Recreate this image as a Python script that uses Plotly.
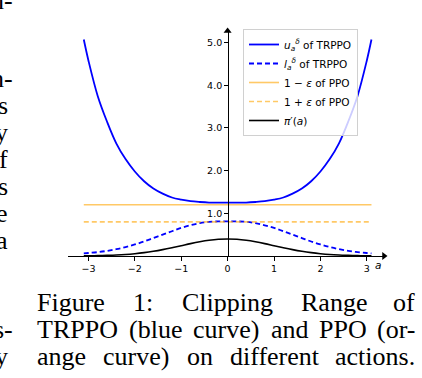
import plotly.graph_objects as go

# action grid and curves
a_vals = [-3.1, -3.0, -2.8, -2.6, -2.4, -2.2, -2.0, -1.8, -1.6, -1.4, -1.2, -1.0,
          -0.8, -0.6, -0.4, -0.2, 0.0, 0.2, 0.4, 0.6, 0.8, 1.0, 1.2, 1.4, 1.6,
          1.8, 2.0, 2.2, 2.4, 2.6, 2.8, 3.0, 3.1]
u_vals = [5.07, 4.58, 3.75, 3.15, 2.64, 2.27, 1.98, 1.75, 1.58, 1.46, 1.37, 1.32,
          1.285, 1.265, 1.252, 1.25, 1.25, 1.25, 1.252, 1.265, 1.285, 1.32, 1.37,
          1.46, 1.58, 1.75, 1.98, 2.27, 2.64, 3.15, 3.75, 4.58, 5.07]
l_vals = [0.06, 0.07, 0.09, 0.12, 0.16, 0.21, 0.27, 0.34, 0.42, 0.50, 0.58, 0.66,
          0.72, 0.77, 0.80, 0.81, 0.81, 0.81, 0.80, 0.77, 0.72, 0.66, 0.58, 0.50,
          0.42, 0.34, 0.27, 0.21, 0.16, 0.12, 0.09, 0.07, 0.06]
pi_vals = [0.003, 0.004, 0.008, 0.014, 0.022, 0.035, 0.054, 0.079, 0.111, 0.150,
           0.194, 0.242, 0.290, 0.333, 0.368, 0.391, 0.399, 0.391, 0.368, 0.333,
           0.290, 0.242, 0.194, 0.150, 0.111, 0.079, 0.054, 0.035, 0.022, 0.014,
           0.008, 0.004, 0.003]
ppo_a = [-3.1, 3.1]
ppo_solid = [1.2, 1.2]
ppo_dashed = [0.8, 0.8]

x_ticks = [-3, -2, -1, 0, 1, 2, 3]
x_ticktext = ["\u22123", "\u22122", "\u22121", "0", "1", "2", "3"]
y_ticks = [1, 2, 3, 4, 5]
y_ticktext = ["1.0", "2.0", "3.0", "4.0", "5.0"]

caption_lines = [
    ["Figure", "1:", "Clipping", "Range", "of"],
    ["TRPPO", "(blue", "curve)", "and", "PPO", "(or-"],
    ["ange", "curve)", "on", "different", "actions."],
]
caption_y = [302, 329, 356]

left_text = ["n-", "n-", "s", "y", "f", "s", "e", "a", "s-", "y"]
left_y = [0, 78, 105, 132, 159, 186, 213, 240, 329, 356]

W, H = 422, 378
ML, MR, MT, MB = 68, 38, 31, 122
PW, PH = W - ML - MR, H - MT - MB
X_RANGE = [-3.44, 3.37]
Y_RANGE = [0, 5.27]

BLUE = "#0000ff"
ORANGE = "rgba(255,165,0,0.6)"
FONT = "DejaVu Sans"
SERIF = "Liberation Serif"
CAP_SIZE = 26
TEXT_LEFT, TEXT_RIGHT = 36, 416

# Times advance widths (1/1000 em), used to justify caption lines
TIMES_W = {"F": 556, "i": 278, "g": 500, "u": 500, "r": 333, "e": 444, "1": 500,
           ":": 278, "C": 667, "l": 278, "p": 500, "n": 500, "R": 667, "a": 444,
           "o": 500, "T": 611, "P": 556, "O": 722, "(": 333, ")": 333, "b": 500,
           "c": 444, "v": 500, "d": 500, "s": 389, "t": 278, "f": 333, "-": 333,
           ".": 250}


def word_w(w):
    return sum(TIMES_W.get(ch, 500) for ch in w) / 1000 * CAP_SIZE


def px_x(px):
    return (px - ML) / PW


def px_y(py):
    return (H - MB - py) / PH


fig = go.Figure()
fig.add_trace(go.Scatter(x=a_vals, y=u_vals, mode="lines", line_shape="spline",
                         name="<i>u<sub>a</sub><sup>δ</sup></i> of TRPPO",
                         line=dict(color=BLUE, width=1.8)))
fig.add_trace(go.Scatter(x=a_vals, y=l_vals, mode="lines", line_shape="spline",
                         name="<i>l<sub>a</sub><sup>δ</sup></i> of TRPPO",
                         line=dict(color=BLUE, width=1.8, dash="5px,3px")))
fig.add_trace(go.Scatter(x=ppo_a, y=ppo_solid, mode="lines",
                         name="1 − <i>ε</i> of PPO",
                         line=dict(color=ORANGE, width=1.6)))
fig.add_trace(go.Scatter(x=ppo_a, y=ppo_dashed, mode="lines",
                         name="1 + <i>ε</i> of PPO",
                         line=dict(color=ORANGE, width=1.6, dash="5px,3px")))
fig.add_trace(go.Scatter(x=a_vals, y=pi_vals, mode="lines", line_shape="spline",
                         name="<i>π</i>′(<i>a</i>)",
                         line=dict(color="black", width=1.6)))

# axis arrow heads
fig.add_trace(go.Scatter(x=[X_RANGE[1]], y=[0], mode="markers", showlegend=False,
                         cliponaxis=False, hoverinfo="skip",
                         marker=dict(symbol="triangle-right", size=7, color="black")))
fig.add_trace(go.Scatter(x=[0], y=[Y_RANGE[1]], mode="markers", showlegend=False,
                         cliponaxis=False, hoverinfo="skip",
                         marker=dict(symbol="triangle-up", size=7, color="black")))

ann = []
# justified caption: spread the leftover space evenly between words
for words, yc in zip(caption_lines, caption_y):
    widths = [word_w(w) for w in words]
    gap = (TEXT_RIGHT - TEXT_LEFT - sum(widths)) / (len(words) - 1)
    xpos = TEXT_LEFT
    for i, (w, ww) in enumerate(zip(words, widths)):
        if i == len(words) - 1:
            xa, xp = "right", TEXT_RIGHT
        else:
            xa, xp = "left", xpos
        ann.append(dict(text=w, x=px_x(xp), y=px_y(yc), xref="paper", yref="paper",
                        xanchor=xa, yanchor="middle", showarrow=False, borderpad=0,
                        font=dict(family=SERIF, size=CAP_SIZE, color="black")))
        xpos += ww + gap
for t, yc in zip(left_text, left_y):
    right = 13.5 if t.endswith("-") else 9
    ann.append(dict(text=t, x=px_x(right), y=px_y(yc), xref="paper", yref="paper",
                    xanchor="right", yanchor="middle", showarrow=False, borderpad=0,
                    font=dict(family=SERIF, size=CAP_SIZE, color="black")))
ann.append(dict(text="<i>a</i>", x=px_x(378), y=px_y(265), xref="paper", yref="paper",
                xanchor="center", yanchor="middle", showarrow=False,
                font=dict(family=FONT, size=10.5, color="black")))

fig.update_layout(
    width=W, height=H, autosize=False,
    margin=dict(l=ML, r=MR, t=MT, b=MB, pad=0),
    paper_bgcolor="white", plot_bgcolor="white",
    font=dict(family=FONT, size=9.5, color="black"),
    xaxis=dict(range=X_RANGE, tickvals=x_ticks, ticktext=x_ticktext,
               showgrid=False, zeroline=False, showline=True, linecolor="black",
               linewidth=1, ticks="outside", ticklen=3.5, tickwidth=1,
               tickcolor="black", tickfont=dict(size=9.5)),
    yaxis=dict(range=Y_RANGE, tickvals=y_ticks, ticktext=y_ticktext,
               anchor="free", position=(0 - X_RANGE[0]) / (X_RANGE[1] - X_RANGE[0]),
               showgrid=False, zeroline=False, showline=True, linecolor="black",
               linewidth=1, ticks="outside", ticklen=3.5, tickwidth=1,
               tickcolor="black", tickfont=dict(size=9.5)),
    legend=dict(x=px_x(243), y=px_y(29), xanchor="left", yanchor="top",
                bgcolor="rgba(255,255,255,0.8)", bordercolor="#d0d0d0",
                borderwidth=1, font=dict(family=FONT, size=10.5)),
    annotations=ann,
    showlegend=True,
)

fig.write_html("out.html", config={"displayModeBar": False},
               post_script="document.body.style.margin='0px';")
